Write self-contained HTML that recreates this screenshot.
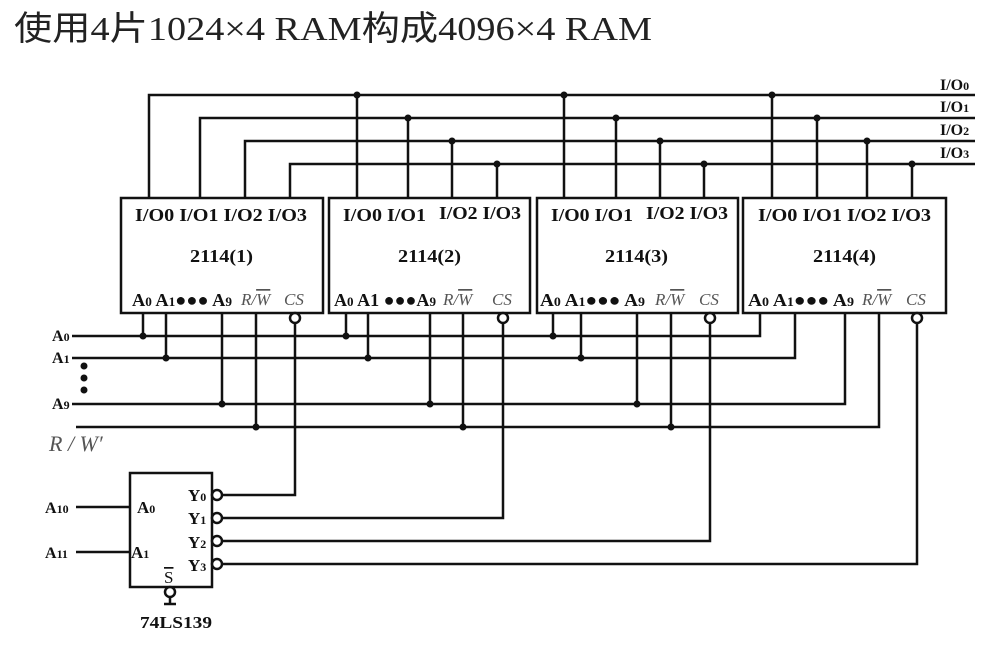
<!DOCTYPE html>
<html><head><meta charset="utf-8"><style>
html,body{margin:0;padding:0;background:#fff;}
svg{display:block;}
.t{font-family:"Liberation Serif","Noto Serif CJK SC",serif;font-weight:bold;fill:#111;}
</style></head><body>
<svg width="989" height="647" viewBox="0 0 989 647" xmlns="http://www.w3.org/2000/svg">
<text x="14" y="40" font-size="34" textLength="638" lengthAdjust="spacingAndGlyphs" style="font-family:'Liberation Serif','Noto Sans CJK SC',serif;fill:#222">使用4片1024×4 RAM构成4096×4 RAM</text>
<g stroke="#111" stroke-width="2.5" fill="none">
<polyline points="149,197 149,95 975,95"/>
<polyline points="200,197 200,118 975,118"/>
<polyline points="245,197 245,141 975,141"/>
<polyline points="290,197 290,164 975,164"/>
<line x1="357" y1="95" x2="357" y2="197"/><line x1="408" y1="118" x2="408" y2="197"/><line x1="452" y1="141" x2="452" y2="197"/><line x1="497" y1="164" x2="497" y2="197"/>
<line x1="564" y1="95" x2="564" y2="197"/><line x1="616" y1="118" x2="616" y2="197"/><line x1="660" y1="141" x2="660" y2="197"/><line x1="704" y1="164" x2="704" y2="197"/>
<line x1="772" y1="95" x2="772" y2="197"/><line x1="817" y1="118" x2="817" y2="197"/><line x1="867" y1="141" x2="867" y2="197"/><line x1="912" y1="164" x2="912" y2="197"/>
<rect x="121" y="198" width="202" height="115"/>
<rect x="329" y="198" width="201" height="115"/>
<rect x="537" y="198" width="201" height="115"/>
<rect x="743" y="198" width="203" height="115"/>
<polyline points="72,336 760,336 760,313"/>
<polyline points="72,358 795,358 795,313"/>
<polyline points="72,404 845,404 845,313"/>
<polyline points="76,427 879,427 879,313"/>
<line x1="143" y1="313" x2="143" y2="336"/><line x1="166" y1="313" x2="166" y2="358"/><line x1="222" y1="313" x2="222" y2="404"/><line x1="256" y1="313" x2="256" y2="427"/>
<line x1="346" y1="313" x2="346" y2="336"/><line x1="368" y1="313" x2="368" y2="358"/><line x1="430" y1="313" x2="430" y2="404"/><line x1="463" y1="313" x2="463" y2="427"/>
<line x1="553" y1="313" x2="553" y2="336"/><line x1="581" y1="313" x2="581" y2="358"/><line x1="637" y1="313" x2="637" y2="404"/><line x1="671" y1="313" x2="671" y2="427"/>
<polyline points="295,324 295,495 222,495"/>
<polyline points="503,324 503,518 222,518"/>
<polyline points="710,324 710,541 222,541"/>
<polyline points="917,324 917,564 222,564"/>
<rect x="130" y="473" width="82" height="114"/>
<line x1="76" y1="507" x2="130" y2="507"/>
<line x1="76" y1="552" x2="130" y2="552"/>
<line x1="170" y1="597" x2="170" y2="604"/>
<line x1="164" y1="604" x2="176" y2="604"/>
</g>
<g stroke="#111" stroke-width="2.5" fill="#fff">
<circle cx="295" cy="318" r="5"/><circle cx="503" cy="318" r="5"/><circle cx="710" cy="318" r="5"/><circle cx="917" cy="318" r="5"/>
<circle cx="217" cy="495" r="5"/><circle cx="217" cy="518" r="5"/><circle cx="217" cy="541" r="5"/><circle cx="217" cy="564" r="5"/>
<circle cx="170" cy="592" r="5"/>
</g>
<g fill="#111">
<circle cx="357" cy="95" r="3.5"/><circle cx="564" cy="95" r="3.5"/><circle cx="772" cy="95" r="3.5"/>
<circle cx="408" cy="118" r="3.5"/><circle cx="616" cy="118" r="3.5"/><circle cx="817" cy="118" r="3.5"/>
<circle cx="452" cy="141" r="3.5"/><circle cx="660" cy="141" r="3.5"/><circle cx="867" cy="141" r="3.5"/>
<circle cx="497" cy="164" r="3.5"/><circle cx="704" cy="164" r="3.5"/><circle cx="912" cy="164" r="3.5"/>
<circle cx="143" cy="336" r="3.5"/><circle cx="346" cy="336" r="3.5"/><circle cx="553" cy="336" r="3.5"/>
<circle cx="166" cy="358" r="3.5"/><circle cx="368" cy="358" r="3.5"/><circle cx="581" cy="358" r="3.5"/>
<circle cx="222" cy="404" r="3.5"/><circle cx="430" cy="404" r="3.5"/><circle cx="637" cy="404" r="3.5"/>
<circle cx="256" cy="427" r="3.5"/><circle cx="463" cy="427" r="3.5"/><circle cx="671" cy="427" r="3.5"/>
<circle cx="84" cy="366" r="3.5"/><circle cx="84" cy="378" r="3.5"/><circle cx="84" cy="390" r="3.5"/>
</g>
<g class="t" font-size="18">
<text x="940" y="90" font-size="16">I/O<tspan font-size="12">0</tspan></text>
<text x="940" y="112" font-size="16">I/O<tspan font-size="12">1</tspan></text>
<text x="940" y="135" font-size="16">I/O<tspan font-size="12">2</tspan></text>
<text x="940" y="158" font-size="16">I/O<tspan font-size="12">3</tspan></text>
<text x="135" y="221" textLength="172" lengthAdjust="spacingAndGlyphs">I/O0 I/O1 I/O2 I/O3</text>
<text x="343" y="221" textLength="83" lengthAdjust="spacingAndGlyphs">I/O0 I/O1</text>
<text x="439" y="219" textLength="82" lengthAdjust="spacingAndGlyphs">I/O2 I/O3</text>
<text x="551" y="221" textLength="82" lengthAdjust="spacingAndGlyphs">I/O0 I/O1</text>
<text x="646" y="219" textLength="82" lengthAdjust="spacingAndGlyphs">I/O2 I/O3</text>
<text x="758" y="221" textLength="173" lengthAdjust="spacingAndGlyphs">I/O0 I/O1 I/O2 I/O3</text>
<text x="190" y="262" textLength="63" lengthAdjust="spacingAndGlyphs">2114(1)</text>
<text x="398" y="262" textLength="63" lengthAdjust="spacingAndGlyphs">2114(2)</text>
<text x="605" y="262" textLength="63" lengthAdjust="spacingAndGlyphs">2114(3)</text>
<text x="813" y="262" textLength="63" lengthAdjust="spacingAndGlyphs">2114(4)</text>
<text x="132" y="306" textLength="100" lengthAdjust="spacingAndGlyphs">A<tspan font-size="13">0</tspan> A<tspan font-size="13">1</tspan>●●● A<tspan font-size="13">9</tspan></text>
<text x="334" y="306" textLength="102" lengthAdjust="spacingAndGlyphs">A<tspan font-size="13">0</tspan> A1 ●●●A<tspan font-size="13">9</tspan></text>
<text x="540" y="306" textLength="105" lengthAdjust="spacingAndGlyphs">A<tspan font-size="13">0</tspan>  A<tspan font-size="13">1</tspan>●●● A<tspan font-size="13">9</tspan></text>
<text x="748" y="306" textLength="106" lengthAdjust="spacingAndGlyphs">A<tspan font-size="13">0</tspan>  A<tspan font-size="13">1</tspan>●●● A<tspan font-size="13">9</tspan></text>
<text x="52" y="341" font-size="16">A<tspan font-size="12">0</tspan></text>
<text x="52" y="363" font-size="16">A<tspan font-size="12">1</tspan></text>
<text x="52" y="409" font-size="16">A<tspan font-size="12">9</tspan></text>
<text x="45" y="513" font-size="16">A<tspan font-size="12">10</tspan></text>
<text x="45" y="558" font-size="16">A<tspan font-size="12">11</tspan></text>
<text x="137" y="513" font-size="17">A<tspan font-size="12">0</tspan></text>
<text x="131" y="558" font-size="17">A<tspan font-size="12">1</tspan></text>
<text x="188" y="501" font-size="17">Y<tspan font-size="12">0</tspan></text>
<text x="188" y="524" font-size="17">Y<tspan font-size="12">1</tspan></text>
<text x="188" y="548" font-size="17">Y<tspan font-size="12">2</tspan></text>
<text x="188" y="571" font-size="17">Y<tspan font-size="12">3</tspan></text>
<text x="140" y="628" font-size="17" textLength="72" lengthAdjust="spacingAndGlyphs">74LS139</text>
</g>
<g font-family="Liberation Serif,serif" font-style="italic" font-size="17" fill="#555">
<text x="241" y="305">R/<tspan text-decoration="overline">W</tspan></text><text x="284" y="305">CS</text>
<text x="443" y="305">R/<tspan text-decoration="overline">W</tspan></text><text x="492" y="305">CS</text>
<text x="655" y="305">R/<tspan text-decoration="overline">W</tspan></text><text x="699" y="305">CS</text>
<text x="862" y="305">R/<tspan text-decoration="overline">W</tspan></text><text x="906" y="305">CS</text>
<text x="49" y="451" font-size="22">R / W′</text>
</g>
<text x="164" y="583" font-family="Liberation Serif,serif" font-size="17" fill="#111" text-decoration="overline">S</text>
</svg>
</body></html>
